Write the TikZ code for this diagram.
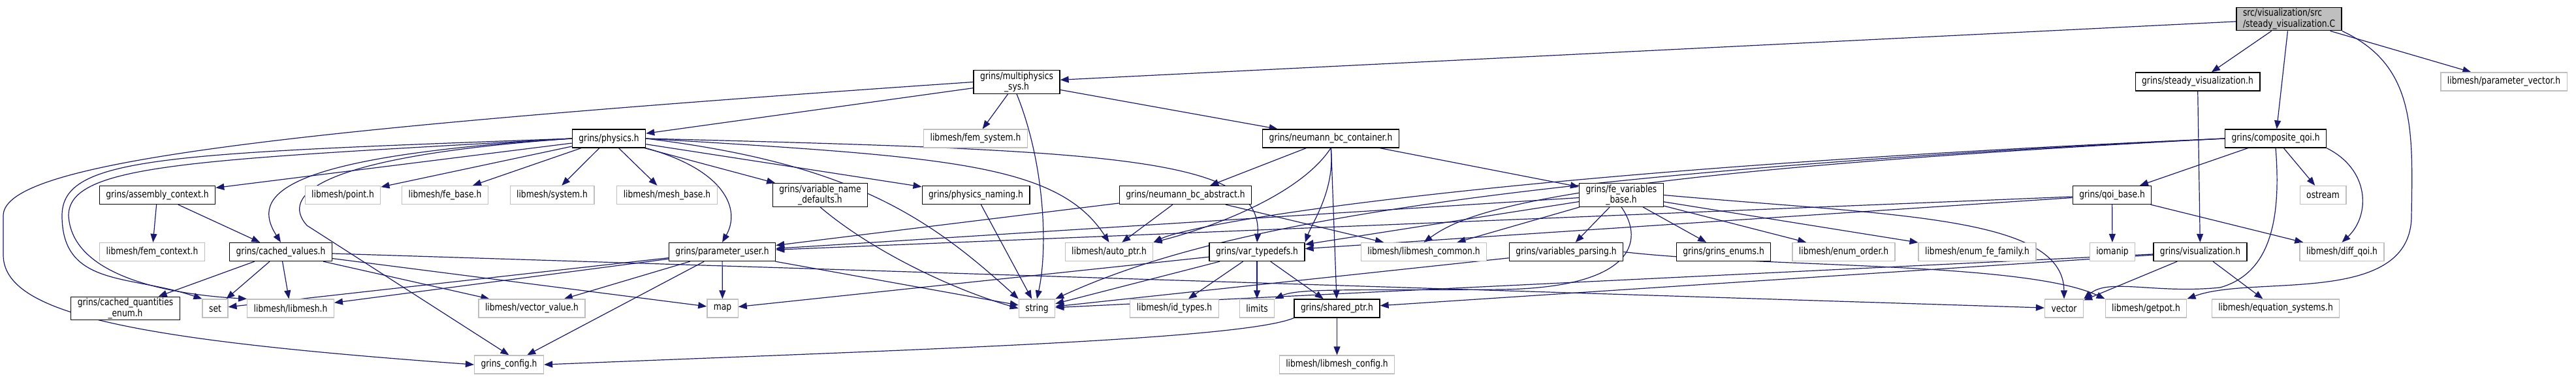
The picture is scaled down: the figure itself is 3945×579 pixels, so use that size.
\documentclass[tikz,border=0pt]{standalone}
\usepackage{fontspec}
\setmainfont{DejaVu Sans}[FakeStretch=0.82]
\usepackage{tikz}
\usetikzlibrary{arrows.meta}
\definecolor{edgeblue}{HTML}{191970}
\definecolor{extgray}{HTML}{BFBFBF}
\pgfdeclarelayer{background}
\pgfdeclarelayer{edges}
\pgfsetlayers{background,edges,main}

\begin{document}
\begin{tikzpicture}[x=1pt,y=-1pt,
                    box/.style={rectangle,draw=black,line width=1.3pt,fill=white,
                                minimum height=28pt,inner xsep=10pt,inner ysep=2pt,
                                font=\fontsize{15}{16.6}\selectfont,align=center},
                    ext/.style={box,draw=extgray},
                    topfile/.style={box,fill=extgray,align=left},
                    arr/.style={-{Triangle[length=13pt,width=10pt]},edgeblue,line width=1.2pt}]
  \begin{pgfonlayer}{background}
    \fill[white] (0,0) rectangle (3945,579);
  \end{pgfonlayer}
  \useasboundingbox (0,0) rectangle (3945,579);

  % rows of the include graph
  \node[topfile] (root)      at (3505.5,29)  {src/visualization/src\\/steady\_visualization.C};
  \node[box] (multisys)  at (1557,125.5) {grins/multiphysics\\\_sys.h};
  \node[box] (steadyvis) at (3365.5,125) {grins/steady\_visualization.h};
  \node[ext] (paramvec)  at (3834.5,125) {libmesh/parameter\_vector.h};

  \node[box] (physics)   at (932.5,212)  {grins/physics.h};
  \node[ext] (femsys)    at (1494,212)   {libmesh/fem\_system.h};
  \node[box] (bccont)    at (2038,212)   {grins/neumann\_bc\_container.h};
  \node[box] (compqoi)   at (3485,212)   {grins/composite\_qoi.h};

  \node[box] (asmctx)    at (241,298.5)  {grins/assembly\_context.h};
  \node[ext] (point)     at (525,298.5)  {libmesh/point.h};
  \node[ext] (febase)    at (681.5,298.5) {libmesh/fe\_base.h};
  \node[ext] (system)    at (845.5,298.5) {libmesh/system.h};
  \node[ext] (meshbase)  at (1021.5,298.5) {libmesh/mesh\_base.h};
  \node[box] (varnames)  at (1256,298.5) {grins/variable\_name\\\_defaults.h};
  \node[box] (physnaming) at (1494.5,298.5) {grins/physics\_naming.h};
  \node[box] (bcabs)     at (1815.5,298.5) {grins/neumann\_bc\_abstract.h};
  \node[box] (fevars)    at (2483,298.5) {grins/fe\_variables\\\_base.h};
  \node[box] (qoibase)   at (3234.5,298.5) {grins/qoi\_base.h};
  \node[ext] (ostream)   at (3557.5,298.5) {ostream};

  \node[ext] (femctx)    at (233,385.5)  {libmesh/fem\_context.h};
  \node[box] (cached)    at (430,385.5)  {grins/cached\_values.h};
  \node[box] (paramuser) at (1106,385.5) {grins/parameter\_user.h};
  \node[ext] (autoptr)   at (1698.5,385.5) {libmesh/auto\_ptr.h};
  \node[box] (vartypes)  at (1925,385.5) {grins/var\_typedefs.h};
  \node[ext] (lmcommon)  at (2180.5,385.5) {libmesh/libmesh\_common.h};
  \node[box] (varparse)  at (2398.5,385.5) {grins/variables\_parsing.h};
  \node[box] (enums)     at (2639.5,385.5) {grins/grins\_enums.h};
  \node[ext] (enumorder) at (2823.5,385.5) {libmesh/enum\_order.h};
  \node[ext] (enumfam)   at (3028,385.5) {libmesh/enum\_fe\_family.h};
  \node[ext] (iomanip)   at (3235,385.5) {iomanip};
  \node[box] (vis)       at (3369.5,385.5) {grins/visualization.h};
  \node[ext] (diffqoi)   at (3586.5,385.5) {libmesh/diff\_qoi.h};

  \node[box] (cachedenum) at (192,472)   {grins/cached\_quantities\\\_enum.h};
  \node[ext] (set)       at (329.5,472)  {set};
  \node[ext] (libmesh)   at (445,472)    {libmesh/libmesh.h};
  \node[ext] (vecval)    at (814.5,472)  {libmesh/vector\_value.h};
  \node[ext] (map)       at (1106.5,472) {map};
  \node[ext] (string)    at (1588,472)   {string};
  \node[ext] (idtypes)   at (1798.5,472) {libmesh/id\_types.h};
  \node[ext] (limits)    at (1925,472)   {limits};
  \node[box] (sharedptr) at (2047.5,472) {grins/shared\_ptr.h};
  \node[ext] (vector)    at (3161,472)   {vector};
  \node[ext] (getpot)    at (3286.5,472) {libmesh/getpot.h};
  \node[ext] (eqsys)     at (3485,472)   {libmesh/equation\_systems.h};

  \node[ext] (config)    at (779.5,558)  {grins\_config.h};
  \node[ext] (lmconfig)  at (2047.5,558) {libmesh/libmesh\_config.h};

  \begin{pgfonlayer}{edges}
  % steady_visualization.C
  \draw[arr] (root) -- (multisys);
  \draw[arr] (root) -- (steadyvis);
  \draw[arr] (root) -- (compqoi);
  \draw[arr] (root) -- (paramvec);
  \draw[arr] (root.south east) .. controls (3700,100) and (3695,200) .. (3693,330)
             .. controls (3693,470) and (3450,420) .. (getpot.north east);
  \draw[arr] (steadyvis) -- (vis);

  % multiphysics_sys.h
  \draw[arr] (multisys) -- (physics);
  \draw[arr] (multisys) -- (femsys);
  \draw[arr] (multisys) -- (bccont);
  \draw[arr] (multisys.south) .. controls (1600,250) and (1605,380) .. (string.north);
  \draw[arr] (multisys.west) .. controls (400,200) and (5,250) .. (5,330) -- (5,390)
             .. controls (5,480) and (200,520) .. (config.west);

  % physics.h
  \draw[arr] (physics) -- (asmctx);
  \draw[arr] (physics) -- (point);
  \draw[arr] (physics) -- (febase);
  \draw[arr] (physics) -- (system);
  \draw[arr] (physics) -- (meshbase);
  \draw[arr] (physics) -- (varnames);
  \draw[arr] (physics) -- (physnaming);
  \draw[arr] (physics.west) .. controls (250,235) and (95,240) .. (95,330)
             .. controls (95,440) and (200,420) .. (set.north west);
  \draw[arr] (physics.west) .. controls (300,245) and (105,250) .. (105,330)
             .. controls (110,420) and (250,450) .. (libmesh.north west);
  \draw[arr] (physics.west) .. controls (420,240) and (385,300) .. (cached.north);
  \draw[arr] (physics.west) .. controls (480,240) and (430,300) .. (470,345) -- (config.north);
  \draw[arr] (physics.south east) .. controls (1110,260) and (1135,320) .. (paramuser.north);
  \draw[arr] (physics.east) .. controls (1300,250) and (1420,330) .. (string.north west);
  \draw[arr] (physics.east) .. controls (1450,240) and (1620,250) .. (autoptr.north);
  \draw[arr] (physics.east) .. controls (1700,230) and (1935,240) .. (vartypes.north);

  % assembly_context.h, cached_values.h
  \draw[arr] (asmctx) -- (femctx);
  \draw[arr] (asmctx) -- (cached);
  \draw[arr] (cached) -- (cachedenum);
  \draw[arr] (cached) -- (set);
  \draw[arr] (cached) -- (libmesh);
  \draw[arr] (cached) -- (vecval);
  \draw[arr] (cached) -- (map);
  \draw[arr] (cached) -- (vector);

  % parameter_user.h
  \draw[arr] (paramuser) -- (set);
  \draw[arr] (paramuser) -- (libmesh);
  \draw[arr] (paramuser) -- (vecval);
  \draw[arr] (paramuser) -- (map);
  \draw[arr] (paramuser) -- (string);
  \draw[arr] (paramuser) -- (config);

  \draw[arr] (varnames.south) .. controls (1330,380) and (1450,440) .. (string.west);
  \draw[arr] (physnaming) -- (string);

  % neumann_bc_container.h, neumann_bc_abstract.h
  \draw[arr] (bccont) -- (bcabs);
  \draw[arr] (bccont) -- (fevars);
  \draw[arr] (bccont.south) .. controls (1990,300) and (1850,350) .. (autoptr.north east);
  \draw[arr] (bccont.south) .. controls (2045,290) and (2010,340) .. (vartypes.north east);
  \draw[arr] (bccont) -- (sharedptr);
  \draw[arr] (bcabs) -- (autoptr);
  \draw[arr] (bcabs) -- (lmcommon);
  \draw[arr] (bcabs) -- (paramuser);

  % var_typedefs.h, shared_ptr.h
  \draw[arr] (vartypes) -- (map);
  \draw[arr] (vartypes) -- (string);
  \draw[arr] (vartypes) -- (idtypes);
  \draw[arr] (vartypes) -- (limits);
  \draw[arr] (vartypes) -- (sharedptr);
  \draw[arr] (sharedptr) -- (lmconfig);
  \draw[arr] (sharedptr.south west) .. controls (1900,520) and (1400,535) .. (config.east);

  % fe_variables_base.h, variables_parsing.h
  \draw[arr] (fevars) -- (varparse);
  \draw[arr] (fevars) -- (enums);
  \draw[arr] (fevars) -- (enumorder);
  \draw[arr] (fevars) -- (enumfam);
  \draw[arr] (fevars) -- (vartypes);
  \draw[arr] (fevars) -- (lmcommon);
  \draw[arr] (fevars) -- (paramuser);
  \draw[arr] (fevars.east) .. controls (2900,330) and (3160,330) .. (vector.north);
  \draw[arr] (fevars.south) .. controls (2520,370) and (2500,440) .. (2300,443)
             .. controls (2100,445) and (1990,440) .. (limits.north east);
  \draw[arr] (varparse) -- (string);
  \draw[arr] (varparse.east) .. controls (2700,410) and (3100,400) .. (getpot.north west);

  % composite_qoi.h, qoi_base.h
  \draw[arr] (compqoi) -- (qoibase);
  \draw[arr] (compqoi) -- (ostream);
  \draw[arr] (compqoi.south east) .. controls (3630,260) and (3630,330) .. (diffqoi.north);
  \draw[arr] (compqoi.south) .. controls (3495,350) and (3470,420) .. (3400,440)
             .. controls (3300,450) and (3230,425) .. (vector.north east);
  \draw[arr] (compqoi.west) .. controls (2300,260) and (1830,340) .. (autoptr.north east);
  \draw[arr] (compqoi.west) .. controls (2400,265) and (2250,320) .. (lmcommon.north);
  \draw[arr] (compqoi.west) .. controls (2200,270) and (1830,360) .. (string.north east);
  \draw[arr] (qoibase) -- (iomanip);
  \draw[arr] (qoibase) -- (diffqoi);
  \draw[arr] (qoibase) -- (vartypes);
  \draw[arr] (qoibase) -- (paramuser);

  % visualization.h
  \draw[arr] (vis) -- (vector);
  \draw[arr] (vis) -- (eqsys);
  \draw[arr] (vis) -- (sharedptr);
  \draw[arr] (vis) -- (string);
  \end{pgfonlayer}
\end{tikzpicture}
\end{document}
